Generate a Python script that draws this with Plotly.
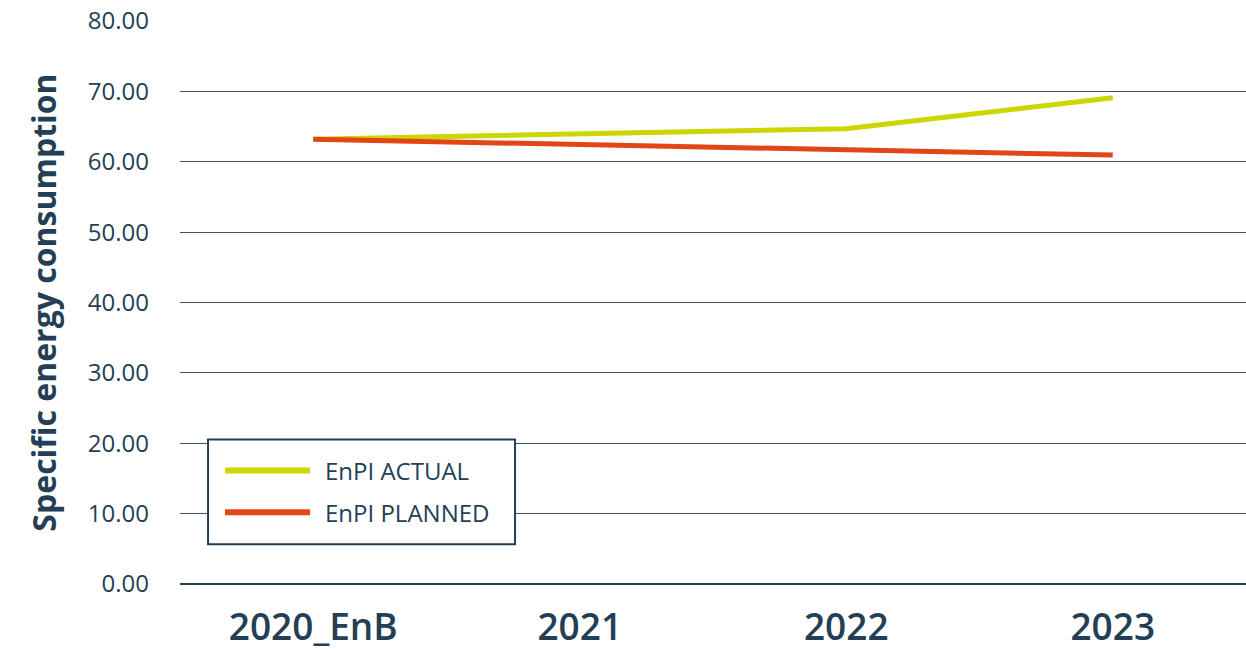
import plotly.graph_objects as go

categories = ["2020_EnB", "2021", "2022", "2023"]
enpi_actual = [63.2, 64.0, 64.7, 69.1]
enpi_planned = [63.2, 62.4, 61.7, 60.95]
y_ticks = [0, 10, 20, 30, 40, 50, 60, 70, 80]
series_names = ["EnPI ACTUAL", "EnPI PLANNED"]
series_colors = ["#ccd600", "#e34516"]

TXT = "#243f55"

fig = go.Figure()
for name, vals, col in zip(series_names, [enpi_actual, enpi_planned], series_colors):
    fig.add_trace(go.Scatter(x=categories, y=vals, mode="lines", name=name,
                             line=dict(color=col, width=5), showlegend=False))

# manual legend (box, keys, labels) in paper coordinates
shapes = [dict(type="rect", xref="paper", yref="paper", x0=0.0263, x1=0.3143,
               y0=0.0708, y1=0.2566, line=dict(color=TXT, width=2), fillcolor="white",
               layer="above")]
annotations = []
for i, (name, col) in enumerate(zip(series_names, series_colors)):
    yy = 0.2018 - i * 0.0744
    shapes.append(dict(type="line", xref="paper", yref="paper", x0=0.0422, x1=0.1220,
                       y0=yy, y1=yy, line=dict(color=col, width=6), layer="above"))
    annotations.append(dict(xref="paper", yref="paper", x=0.134, y=yy, text=name,
                            showarrow=False, xanchor="left", yanchor="middle",
                            font=dict(family="Open Sans", size=24, color=TXT)))

fig.update_layout(
    width=1246, height=651,
    margin=dict(l=180, r=0, t=21, b=65),
    paper_bgcolor="white", plot_bgcolor="white",
    font=dict(family="Open Sans", color=TXT),
    showlegend=False,
    shapes=shapes,
    annotations=annotations,
    xaxis=dict(type="category", range=[-0.5, 3.5], showgrid=False, zeroline=False,
               showline=False, ticks="",
               tickfont=dict(family="Open Sans", size=37, color=TXT, weight=600),
               ticklabelstandoff=18),
    yaxis=dict(range=[0, 80], tickvals=y_ticks,
               ticktext=[f"{v:.2f}" for v in y_ticks],
               showgrid=True, gridcolor="#3a5266", gridwidth=1,
               zeroline=True, zerolinecolor=TXT, zerolinewidth=2,
               showline=False, ticks="",
               tickfont=dict(family="Open Sans", size=24, color=TXT),
               ticklabelstandoff=30,
               title=dict(text="Specific energy consumption",
                          font=dict(family="Open Sans", size=32, color=TXT, weight="bold"),
                          standoff=21)),
)

fig.write_html("out.html")
